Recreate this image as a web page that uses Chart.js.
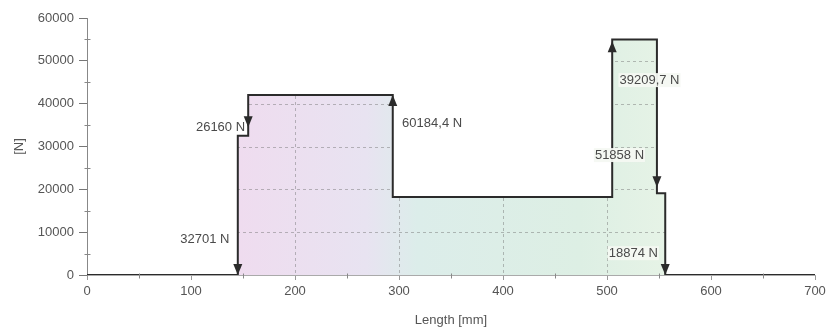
<!DOCTYPE html>
<html>
<head>
<meta charset="utf-8">
<script src="https://cdn.jsdelivr.net/npm/chart.js@4.4.1/dist/chart.umd.min.js"></script>
<style>
  html, body { margin: 0; padding: 0; background: #fff; }
  #wrap { width: 832px; height: 333px; }
</style>
</head>
<body>
<div id="wrap"><canvas id="forceChart"></canvas></div>
<script>
// outline of the load diagram: length [mm] -> force [N]
const lengths = [0, 145, 145, 155, 155, 294, 294, 505, 505, 548, 548, 556, 556, 700];
const forces  = [0, 0, 32500, 32500, 42000, 42000, 18200, 18200, 55000, 55000, 19100, 19100, 0, 0];

// point loads: where they act, arrow tip value and direction
const loadNames = ['32701 N', '26160 N', '60184,4 N', '51858 N', '39209,7 N', '18874 N'];
const loadAt    = [145, 155, 294, 505, 548, 556];
const loadTip   = [0, 34500, 42000, 54600, 20500, 0];
const loadDir   = ['down', 'down', 'up', 'up', 'down', 'down'];

const xTickValues = [0, 100, 200, 300, 400, 500, 600, 700];
const yTickValues = [0, 10000, 20000, 30000, 40000, 50000, 60000];

// where the load texts sit (mm / N) and how they are aligned
const labelSpots = [
    { x: 137, y: 8200,  align: 'right', box: false },
    { x: 152, y: 34500, align: 'right', box: false },
    { x: 303, y: 35500, align: 'left',  box: false },
    { x: 512, y: 28000, align: 'center', box: true },
    { x: 512, y: 45500, align: 'left',  box: true },
    { x: 549, y: 5100,  align: 'right', box: true }
];

const FONT = '13px "Liberation Sans", Arial, sans-serif';

function outlinePath(chart) {
    const ctx = chart.ctx;
    const pts = chart.getDatasetMeta(0).data;
    const y0 = chart.scales.y.getPixelForValue(0);
    ctx.beginPath();
    ctx.moveTo(pts[0].x, y0);
    pts.forEach(p => ctx.lineTo(p.x, p.y));
    ctx.lineTo(pts[pts.length - 1].x, y0);
    ctx.closePath();
}

const loadPlugin = {
    id: 'loads',
    beforeDatasetDraw(chart) {
        // dashed grid, only visible inside the shaded area
        const { ctx, chartArea, scales } = chart;
        ctx.save();
        outlinePath(chart);
        ctx.clip();
        ctx.strokeStyle = 'rgba(110,110,110,0.45)';
        ctx.lineWidth = 1;
        ctx.setLineDash([3, 3]);
        yTickValues.slice(1).forEach(v => {
            const y = Math.round(scales.y.getPixelForValue(v)) + 0.5;
            ctx.beginPath(); ctx.moveTo(chartArea.left, y); ctx.lineTo(chartArea.right, y); ctx.stroke();
        });
        xTickValues.slice(1).forEach(v => {
            const x = Math.round(scales.x.getPixelForValue(v)) + 0.5;
            ctx.beginPath(); ctx.moveTo(x, chartArea.top); ctx.lineTo(x, chartArea.bottom); ctx.stroke();
        });
        ctx.restore();
    },
    afterDatasetsDraw(chart) {
        const { ctx, scales } = chart;
        const xs = scales.x, ys = scales.y;
        ctx.save();

        // minor ticks
        ctx.strokeStyle = '#888';
        ctx.lineWidth = 1;
        const ax = Math.round(xs.getPixelForValue(0)) + 0.5;
        for (let i = 0; i < yTickValues.length - 1; i++) {
            const y = Math.round(ys.getPixelForValue((yTickValues[i] + yTickValues[i + 1]) / 2)) + 0.5;
            ctx.beginPath(); ctx.moveTo(ax - 3, y); ctx.lineTo(ax + 3, y); ctx.stroke();
        }
        const ay = Math.round(ys.getPixelForValue(0)) + 0.5;
        for (let i = 0; i < xTickValues.length - 1; i++) {
            const x = Math.round(xs.getPixelForValue((xTickValues[i] + xTickValues[i + 1]) / 2)) + 0.5;
            ctx.beginPath(); ctx.moveTo(x, ay - 2); ctx.lineTo(x, ay + 3); ctx.stroke();
        }

        // load labels
        ctx.font = FONT;
        ctx.textBaseline = 'middle';
        loadNames.forEach((txt, i) => {
            const s = labelSpots[i];
            const x = xs.getPixelForValue(s.x);
            const y = ys.getPixelForValue(s.y);
            ctx.textAlign = s.align;
            if (s.box) {
                const w = ctx.measureText(txt).width;
                const left = s.align === 'left' ? x : s.align === 'right' ? x - w : x - w / 2;
                ctx.fillStyle = 'rgba(244,248,242,0.95)';
                ctx.fillRect(left - 1, y - 7, w + 2, 14);
            }
            ctx.fillStyle = '#4a4a4a';
            ctx.fillText(txt, x, y);
        });

        // arrow heads (tip at the load value, base away from it)
        ctx.fillStyle = '#2b2b2b';
        ctx.strokeStyle = '#2b2b2b';
        loadAt.forEach((v, i) => {
            const x = xs.getPixelForValue(v);
            const y = ys.getPixelForValue(loadTip[i]);
            const base = loadDir[i] === 'down' ? y - 11 : y + 11;
            ctx.beginPath();
            ctx.moveTo(x, y);
            ctx.lineTo(x - 4.5, base);
            ctx.lineTo(x + 4.5, base);
            ctx.closePath();
            ctx.fill();
        });
        ctx.restore();
    }
};

const ctx = document.getElementById('forceChart').getContext('2d');

new Chart(ctx, {
    type: 'line',
    data: {
        datasets: [{
            data: lengths.map((l, i) => ({ x: l, y: forces[i] })),
            borderColor: '#2b2b2b',
            borderWidth: 2,
            pointRadius: 0,
            tension: 0,
            fill: 'origin',
            backgroundColor(c) {
                const { chart } = c;
                if (!chart.chartArea) return 'transparent';
                const x0 = chart.scales.x.getPixelForValue(lengths[1]);
                const x1 = chart.scales.x.getPixelForValue(lengths[lengths.length - 2]);
                const g = chart.ctx.createLinearGradient(x0, 0, x1, 0);
                g.addColorStop(0, '#efdcef');
                g.addColorStop(0.3, '#e8e3f1');
                g.addColorStop(0.42, '#dcedea');
                g.addColorStop(0.8, '#ddefe4');
                g.addColorStop(1, '#e6f3e6');
                return g;
            }
        }]
    },
    options: {
        responsive: true,
        maintainAspectRatio: false,
        animation: false,
        layout: { padding: { left: 0, right: 17, top: 18, bottom: 0 } },
        plugins: {
            legend: { display: false },
            tooltip: { enabled: false }
        },
        scales: {
            x: {
                type: 'linear',
                min: 0,
                max: 700,
                afterBuildTicks: s => { s.ticks = xTickValues.map(v => ({ value: v })); },
                afterFit: s => { s.height = 58; },
                ticks: { color: '#555', font: { family: '"Liberation Sans", Arial', size: 13 }, padding: 4, maxRotation: 0 },
                grid: { drawOnChartArea: false, tickLength: 5, color: '#999' },
                border: { color: '#aaa', dash: [2, 2] },
                title: { display: true, text: 'Length [mm]', color: '#555', font: { family: '"Liberation Sans", Arial', size: 13 }, padding: { top: 0, bottom: 5 } }
            },
            y: {
                min: 0,
                max: 60000,
                afterBuildTicks: s => { s.ticks = yTickValues.map(v => ({ value: v })); },
                afterFit: s => { s.width = 87; },
                ticks: { color: '#555', font: { family: '"Liberation Sans", Arial', size: 13 }, padding: 5, callback: v => String(v) },
                grid: { drawOnChartArea: false, tickLength: 8, color: '#777' },
                border: { color: '#888' },
                title: { display: true, text: '[N]', color: '#555', font: { family: '"Liberation Sans", Arial', size: 13 }, padding: { top: 12, bottom: 0 } }
            }
        }
    },
    plugins: [loadPlugin]
});
</script>
</body>
</html>
